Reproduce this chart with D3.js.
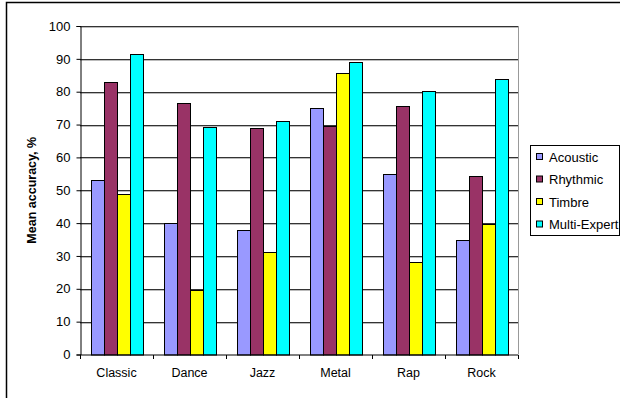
<!DOCTYPE html>
<html>
<head>
<meta charset="utf-8">
<script src="https://cdn.jsdelivr.net/npm/d3@7"></script>
<style>
  body { margin: 0; background: #fff; }
  text { font-family: "Liberation Sans", Arial, sans-serif; fill: #000; }
</style>
</head>
<body>
<svg id="chart" width="620" height="398"></svg>
<script>
const genres = ["Classic", "Dance", "Jazz", "Metal", "Rap", "Rock"];
const experts = ["Acoustic", "Rhythmic", "Timbre", "Multi-Expert"];
const acoustic = [53, 40, 38, 75, 55, 35];
const rhythmic = [83, 76.7, 69, 69.6, 75.6, 54.2];
const timbre = [49, 19.7, 31.3, 85.6, 28.3, 39.6];
const multiExpert = [91.4, 69.3, 71.2, 89, 80.1, 83.8];
const yTicks = [0, 10, 20, 30, 40, 50, 60, 70, 80, 90, 100];
const colors = ["#9999ff", "#993366", "#ffff00", "#00ffff"];

const series = [acoustic, rhythmic, timbre, multiExpert];
const data = genres.map((g, i) => ({genre: g, values: series.map(s => s[i])}));

const svg = d3.select("#chart"),
      margin = {top: 26, right: 102, bottom: 43.5, left: 80},
      width = +svg.attr("width") - margin.left - margin.right,
      height = +svg.attr("height") - margin.top - margin.bottom;

// outer frame
svg.append("rect")
    .attr("x", 6.5).attr("y", 2.5)
    .attr("width", 640).attr("height", 420)
    .attr("fill", "none").attr("stroke", "#000").attr("stroke-width", 1.5);

const g = svg.append("g").attr("transform", "translate(" + margin.left + "," + margin.top + ")");

const x = d3.scaleBand().domain(genres).range([0, width]).paddingInner(0).paddingOuter(0);
// bars of one group touch each other, gap only between groups
const x1 = d3.scaleBand().domain(experts)
    .range([(x.bandwidth() - 52) / 2, (x.bandwidth() + 52) / 2])
    .paddingInner(0).paddingOuter(0);
const y = d3.scaleLinear().domain([0, 100]).range([height, 0]);

// plot border (right side grey)
g.append("line")
    .attr("x1", width + 0.5).attr("x2", width + 0.5)
    .attr("y1", 0).attr("y2", height)
    .attr("stroke", "#999");

// gridlines
const grid = g.append("g");
grid.selectAll("line.shadow")
    .data(yTicks.slice(1))
    .join("line")
    .attr("class", "shadow")
    .attr("x1", 0).attr("x2", width)
    .attr("y1", d => Math.round(y(d)) + 1.5).attr("y2", d => Math.round(y(d)) + 1.5)
    .attr("stroke", "#bbb");
grid.selectAll("line.main")
    .data(yTicks.slice(1))
    .join("line")
    .attr("class", "main")
    .attr("x1", 0).attr("x2", width)
    .attr("y1", d => Math.round(y(d)) + 0.5).attr("y2", d => Math.round(y(d)) + 0.5)
    .attr("stroke", "#333");

// bars
g.append("g")
  .selectAll("g")
  .data(data)
  .join("g")
    .attr("transform", d => "translate(" + Math.round(x(d.genre)) + ",0)")
  .selectAll("rect")
  .data(d => d.values.map((v, i) => ({key: experts[i], value: v, color: colors[i]})))
  .join("rect")
    .attr("x", d => Math.round(x1(d.key)) + 0.5)
    .attr("y", d => Math.round(y(d.value)) + 0.5)
    .attr("width", Math.round(x1.bandwidth()))
    .attr("height", d => height - Math.round(y(d.value)))
    .attr("fill", d => d.color)
    .attr("stroke", "#000")
    .attr("stroke-width", 1);

// y axis
const yAxis = g.append("g")
    .attr("transform", "translate(0.5,0)")
    .call(d3.axisLeft(y).tickValues(yTicks).tickSize(4).tickPadding(6));
yAxis.selectAll("text").style("font-size", "13px");
yAxis.selectAll("line, path").attr("stroke", "#000");

// x axis
const xAxis = g.append("g")
    .attr("transform", "translate(0," + (height + 0.5) + ")")
    .call(d3.axisBottom(x).tickSize(0).tickPadding(13));
xAxis.selectAll("text").style("font-size", "12.5px");
xAxis.select(".domain").attr("stroke", "#000").attr("d", "M0,0H" + width);
xAxis.selectAll(".sep")
    .data(d3.range(genres.length + 1))
    .join("line")
    .attr("class", "sep")
    .attr("x1", i => Math.round(i * x.step()) + 0.5)
    .attr("x2", i => Math.round(i * x.step()) + 0.5)
    .attr("y1", 0).attr("y2", 4)
    .attr("stroke", "#000");

// y axis title
svg.append("text")
    .attr("transform", "translate(36," + (margin.top + height / 2) + ") rotate(-90)")
    .attr("text-anchor", "middle")
    .style("font-size", "12.5px")
    .style("font-weight", "bold")
    .text("Mean accuracy, %");

// legend
const legend = svg.append("g").attr("transform", "translate(530,145)");
legend.append("rect")
    .attr("x", 0.5).attr("y", 0.5)
    .attr("width", 89).attr("height", 90)
    .attr("fill", "#fff").attr("stroke", "#000");
const items = legend.selectAll("g.item")
    .data(experts)
    .join("g")
    .attr("class", "item")
    .attr("transform", (d, i) => "translate(6," + (12 + i * 22.5) + ")");
items.append("rect")
    .attr("x", 0.5).attr("y", -3.5)
    .attr("width", 6).attr("height", 6)
    .attr("fill", (d, i) => colors[i])
    .attr("stroke", "#000");
items.append("text")
    .attr("x", 13).attr("dy", "0.35em")
    .style("font-size", "13px")
    .text(d => d);
</script>
</body>
</html>
